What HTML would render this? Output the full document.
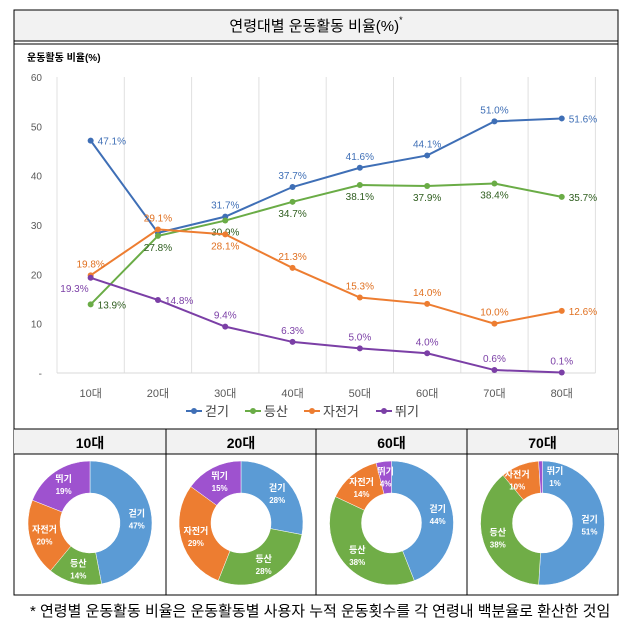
<!DOCTYPE html>
<html><head><meta charset="utf-8"><style>
body{margin:0;background:#fff;width:633px;height:630px;overflow:hidden;font-family:"Liberation Sans","Noto Sans CJK KR",sans-serif;}
svg{display:block}
</style></head><body>
<svg id="s" width="633" height="630" xmlns="http://www.w3.org/2000/svg" font-family="Liberation Sans, Noto Sans CJK KR, sans-serif">
<rect x="14" y="10" width="604" height="31" fill="#f2f2f2"/>
<rect x="14" y="10" width="604" height="585" fill="none" stroke="#000" stroke-width="1"/>
<line x1="14" y1="41" x2="618" y2="41" stroke="#000"/>
<line x1="14" y1="44" x2="618" y2="44" stroke="#000"/>
<text x="316" y="31" text-anchor="middle" font-size="15">연령대별 운동활동 비율(%)<tspan font-size="9" dy="-8">*</tspan></text>
<text x="27" y="61" font-size="10" font-weight="bold">운동활동 비율(%)</text>
<g id="grid"></g><g id="axes"></g><g id="lines"></g>
<g id="legend"></g>
<rect x="14" y="429" width="604" height="25" fill="#f2f2f2"/>
<line x1="14" y1="429" x2="618" y2="429" stroke="#000"/>
<line x1="14" y1="454" x2="618" y2="454" stroke="#000"/>
<g id="donuts"></g>
<text x="30" y="616" font-size="15">*  연령별 운동활동 비율은 운동활동별 사용자 누적 운동횟수를 각 연령내 백분율로 환산한 것임</text>
</svg>
<script>
const categories=["10대","20대","30대","40대","50대","60대","70대","80대"];
const walking=[47.1,28.4,31.7,37.7,41.6,44.1,51.0,51.6];
const hiking=[13.9,27.8,30.9,34.7,38.1,37.9,38.4,35.7];
const cycling=[19.8,29.1,28.1,21.3,15.3,14.0,10.0,12.6];
const running=[19.3,14.8,9.4,6.3,5.0,4.0,0.6,0.1];
const yTicks=[0,10,20,30,40,50,60];
const seriesNames=["걷기","등산","자전거","뛰기"];
const donutAges=["10대","20대","60대","70대"];
const donutValues=[[47,14,20,19],[28,28,29,15],[44,38,14,4],[51,38,10,1]];
const NS="http://www.w3.org/2000/svg";
function el(t,a,p){const e=document.createElementNS(NS,t);for(const k in a)e.setAttribute(k,a[k]);p.appendChild(e);return e;}
const X0=57,XW=67.3,Y0=373,YS=296/60;
const xs=i=>X0+XW*(i+0.5), ys=v=>Y0-v*YS;
const grid=document.getElementById('grid'),axes=document.getElementById('axes'),lines=document.getElementById('lines');
for(let i=0;i<=categories.length;i++){const l=el('line',{x1:X0+XW*i,x2:X0+XW*i,y1:ys(60),y2:Y0,stroke:'#e0e0e0'},grid);
}
el('line',{x1:X0,x2:X0+XW*8,y1:Y0,y2:Y0,stroke:'#d9d9d9'},grid);
yTicks.forEach(v=>{const t=el('text',{x:42,y:ys(v)+4,'text-anchor':'end','font-size':10,fill:'#595959'},axes);t.textContent=v===0?'-':v;
});
categories.forEach((c,i)=>{const t=el('text',{x:xs(i),y:Y0+24,'text-anchor':'middle','font-size':11,fill:'#595959'},axes);t.textContent=c;
});
const colors=['#3f6fb6','#6aac46','#ed7d31','#7b3fa6'];
const labelColors=['#3f6fb6','#2e5d1e','#e07020','#7b3fa6'];
const all=[walking,hiking,cycling,running];
const place=[["r","n","a","a","a","a","a","r"],["r","b","b","b","b","b","b","r"],["a","a","b","a","a","a","a","r"],["l","r","a","a","a","a","a","a"]];
const sNames=['walking','hiking','cycling','running'];
all.forEach((arr,s)=>{
 const p=el('polyline',{points:arr.map((v,i)=>xs(i)+','+ys(v)).join(' '),fill:'none',stroke:colors[s],'stroke-width':2},lines);
 
 arr.forEach((v,i)=>{const c=el('circle',{cx:xs(i),cy:ys(v),r:3,fill:colors[s]},lines);
 
 const pl=place[s][i];if(pl==='n')return;
 let dx=0,dy=-8,an='middle';if(pl==='b')dy=15;if(pl==='r'){dx=7;dy=4;an='start';}if(pl==='l'){dx=-2;dy=14;an='end';}
 const t=el('text',{x:xs(i)+dx,y:ys(v)+dy,'text-anchor':an,'font-size':10,fill:labelColors[s]},lines);t.textContent=v.toFixed(1)+'%';
 });
});
const lg=document.getElementById('legend');let lx=186;
seriesNames.forEach((n,s)=>{el('line',{x1:lx,x2:lx+16,y1:411,y2:411,stroke:colors[s],'stroke-width':2},lg);el('circle',{cx:lx+8,cy:411,r:3,fill:colors[s]},lg);
const t=el('text',{x:lx+19,y:416,'font-size':13,fill:'#404040'},lg);t.textContent=n;lx+=19+n.length*13+14;});
const dg=document.getElementById('donuts');const cols=[14,166,316,467,618];
const dColors=['#5b9bd5','#70ad47','#ed7d31','#9e52cf'];
for(let k=1;k<4;k++){el('line',{x1:cols[k],x2:cols[k],y1:429,y2:595,stroke:'#000'},dg);}
donutAges.forEach((a,k)=>{
 const cx=(cols[k]+cols[k+1])/2,cy=523,R=62,r=30;
 const h=el('text',{x:cx,y:448,'text-anchor':'middle','font-size':14,'font-weight':'bold'},dg);h.textContent=a;
 
 const vals=donutValues[k],tot=vals.reduce((p,q)=>p+q,0);let ang=0;
 vals.forEach((v,j)=>{const a0=ang,a1=ang+v/tot*2*Math.PI;ang=a1;
  const P=(rr,t)=>[cx+rr*Math.sin(t),cy-rr*Math.cos(t)];const lf=(a1-a0)>Math.PI?1:0;
  const [x1,y1]=P(R,a0),[x2,y2]=P(R,a1),[x3,y3]=P(r,a1),[x4,y4]=P(r,a0);
  const path=el('path',{d:`M${x1},${y1}A${R},${R} 0 ${lf} 1 ${x2},${y2}L${x3},${y3}A${r},${r} 0 ${lf} 0 ${x4},${y4}Z`,fill:dColors[j],stroke:'#fff','stroke-width':0.5},dg);
  
  let [lx2,ly2]=P(47,(a0+a1)/2);
  if(k===3&&j===2)lx2-=8;
  if(k===3&&j===3)lx2+=14;
  const t1=el('text',{x:lx2,y:ly2-2,'text-anchor':'middle','font-size':9,fill:'#fff','font-weight':'bold'},dg);t1.textContent=seriesNames[j];
  
  const t2=el('text',{x:lx2,y:ly2+10,'text-anchor':'middle','font-size':8,fill:'#fff','font-weight':'bold'},dg);t2.textContent=v+'%';
  
 });
});
</script>
</body></html>
